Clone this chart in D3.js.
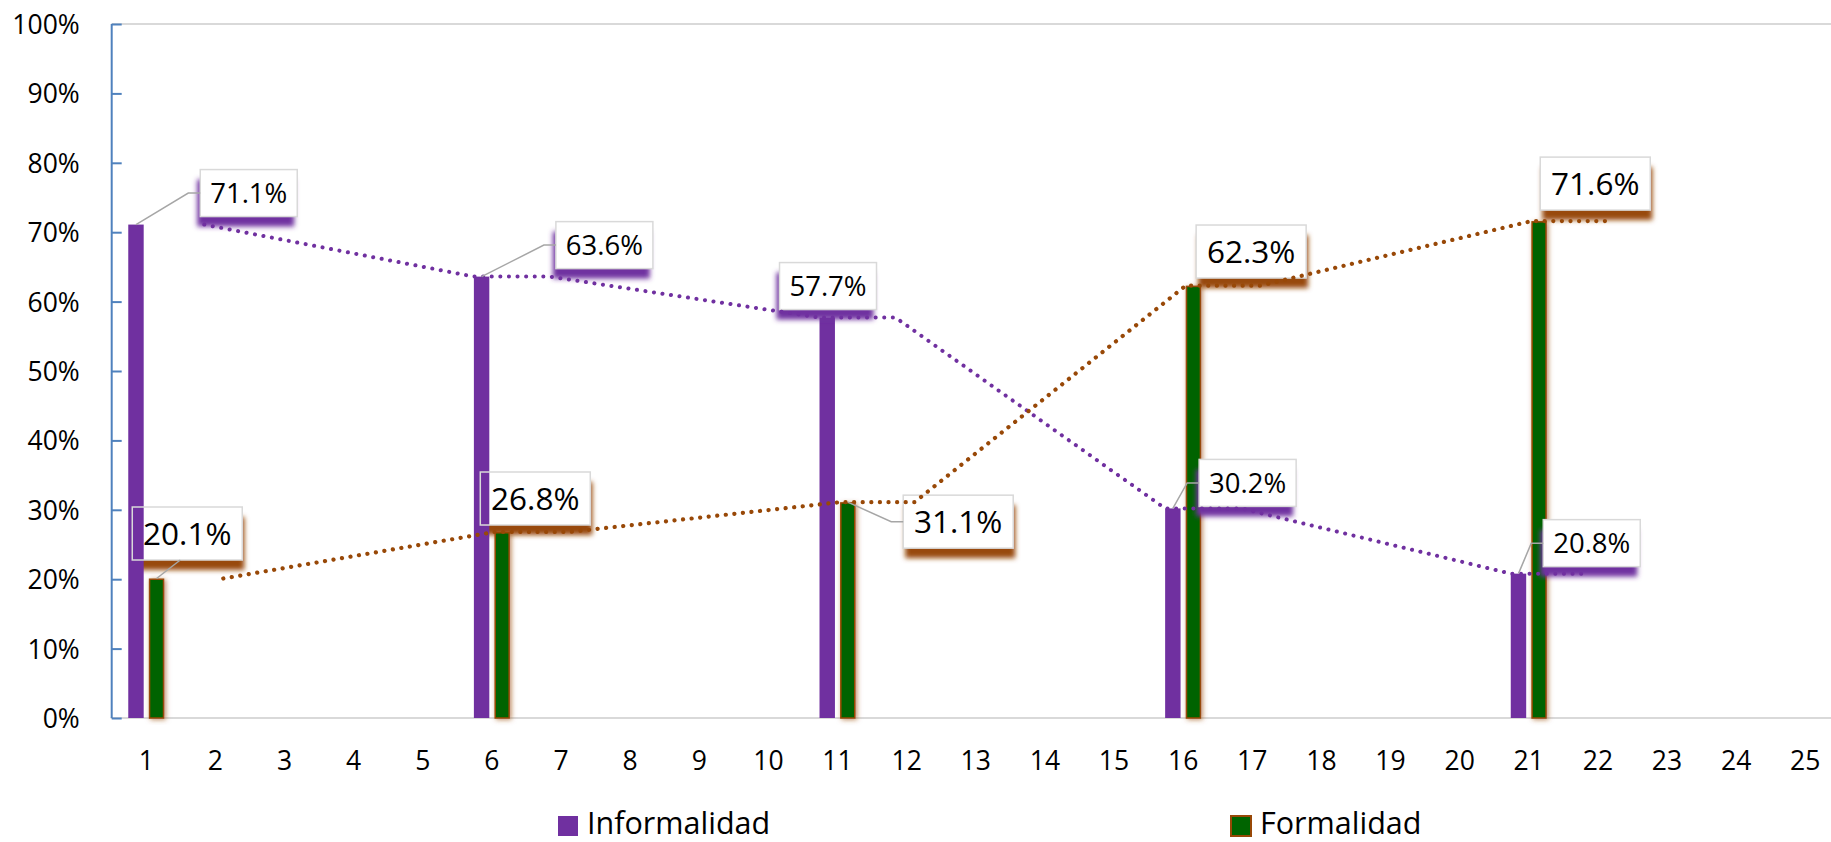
<!DOCTYPE html>
<html>
<head>
<meta charset="utf-8">
<script src="https://cdn.jsdelivr.net/npm/d3@7"></script>
<style>
  html, body { margin: 0; padding: 0; background: #ffffff; }
  svg { display: block; font-family: "Open Sans", "DejaVu Sans", sans-serif; }
</style>
</head>
<body>
<svg id="chart" width="1831" height="842"></svg>
<script>
// ---- data ----
const categories = ["1", "2", "3", "4", "5", "6", "7", "8", "9", "10", "11", "12", "13",
                    "14", "15", "16", "17", "18", "19", "20", "21", "22", "23", "24", "25"];
const groupCategories = ["1", "6", "11", "16", "21"];
const informalidad = [71.1, 63.6, 57.7, 30.2, 20.8];
const formalidad = [20.1, 26.8, 31.1, 62.3, 71.6];
const yTickValues = [0, 10, 20, 30, 40, 50, 60, 70, 80, 90, 100];
const seriesNames = ["Informalidad", "Formalidad"];

// ---- label placement (box top-left relative to the bar group centre / value) ----
const infLabelOffsets = [[54, -55], [64, -55], [-58, -55], [16, -49], [14.5, -54]];
const formLabelOffsets = [[-14, -71.5], [-11.6, -60], [65.7, -7], [13, -60.6], [11.5, -64]];
const infLeaders = ["side", "side", null, "side", "side"];
const formLeaders = ["bottom", null, "side", null, null];

// ---- styles ----
const COLORS = {
  inf: "#7030A0",
  form: "#006400",
  formEdge: "#984807",
  axis: "#4F81BD",
  grid: "#D9D9D9",
  leader: "#A6A6A6",
  boxEdge: "#D9D9D9"
};

const svg = d3.select("#chart");
const W = 1831, H = 842;
const plot = { left: 111.7, top: 24, bottom: 718, step: 69.125 };
plot.right = plot.left + categories.length * plot.step;

const x = d3.scaleBand().domain(categories).range([plot.left, plot.right]);
const y = d3.scaleLinear().domain([0, 100]).range([plot.bottom, plot.top]);
const inner = d3.scaleBand().domain(seriesNames).range([-18, 18]).paddingInner(0.25);
const cx = c => x(c) + x.bandwidth() / 2;

// ---- filters ----
const defs = svg.append("defs");
const blur = defs.append("filter").attr("id", "soft").attr("x", "-20%").attr("y", "-40%")
  .attr("width", "140%").attr("height", "180%");
blur.append("feGaussianBlur").attr("stdDeviation", 2.6);

const glow = defs.append("filter").attr("id", "glow").attr("x", "-100%").attr("y", "-5%")
  .attr("width", "300%").attr("height", "110%");
glow.append("feDropShadow").attr("dx", 1.5).attr("dy", 1).attr("stdDeviation", 2.4)
  .attr("flood-color", COLORS.formEdge).attr("flood-opacity", 0.65);

// ---- plot frame ----
svg.append("line")
  .attr("x1", plot.left).attr("x2", W)
  .attr("y1", y(100)).attr("y2", y(100))
  .attr("stroke", COLORS.grid).attr("stroke-width", 2);
svg.append("line")
  .attr("x1", plot.left - 1).attr("x2", W)
  .attr("y1", y(0)).attr("y2", y(0))
  .attr("stroke", COLORS.grid).attr("stroke-width", 2);

// y axis with inner ticks
const yAxis = d3.axisRight(y)
  .tickValues(yTickValues)
  .tickSize(10)
  .tickFormat(d => d + "%");
const gy = svg.append("g").attr("transform", `translate(${plot.left},0)`).call(yAxis);
gy.select(".domain").attr("stroke", COLORS.axis).attr("stroke-width", 2)
  .attr("d", `M0,${y(100)}V${y(0)}`);
gy.selectAll(".tick line").attr("stroke", COLORS.axis).attr("stroke-width", 2);
gy.selectAll(".tick text")
  .attr("x", -32).attr("dy", "0.36em")
  .attr("text-anchor", "end")
  .attr("fill", "#000").attr("font-size", 26.5)
  .attr("font-family", '"Open Sans", sans-serif');

// x axis labels
const xAxis = d3.axisBottom(x).tickSize(0).tickPadding(0);
const gx = svg.append("g").attr("transform", `translate(0,${plot.bottom})`).call(xAxis);
gx.select(".domain").remove();
gx.selectAll(".tick text")
  .attr("y", 52).attr("dy", 0)
  .attr("fill", "#000").attr("font-size", 26.5)
  .attr("font-family", '"Open Sans", sans-serif');

// ---- label geometry ----
const INF_BOX = { w: 97, h: 47, font: 27.5 };
const FORM_BOX = { w: 110, h: 53, font: 31.5 };

function boxes(values, offsets, size) {
  return values.map((v, i) => {
    const c = groupCategories[i];
    return {
      v, i,
      x: cx(c) + offsets[i][0],
      y: y(v) + offsets[i][1],
      w: size.w, h: size.h, font: size.font
    };
  });
}
const infBoxes = boxes(informalidad, infLabelOffsets, INF_BOX);
const formBoxes = boxes(formalidad, formLabelOffsets, FORM_BOX);

function drawBoxFills(g, data, shadowColor, sdx) {
  g.selectAll("rect.shadow").data(data).join("rect")
    .attr("class", "shadow")
    .attr("x", d => d.x + sdx).attr("y", d => d.y + 10)
    .attr("width", d => d.w).attr("height", d => d.h)
    .attr("fill", shadowColor)
    .attr("filter", "url(#soft)");
  g.selectAll("rect.box").data(data).join("rect")
    .attr("class", "box")
    .attr("x", d => d.x).attr("y", d => d.y)
    .attr("width", d => d.w).attr("height", d => d.h)
    .attr("fill", "#ffffff");
}
function drawBoxOutlines(g, data) {
  g.selectAll("rect.edge").data(data).join("rect")
    .attr("class", "edge")
    .attr("x", d => d.x).attr("y", d => d.y)
    .attr("width", d => d.w).attr("height", d => d.h)
    .attr("fill", "none")
    .attr("stroke", COLORS.boxEdge).attr("stroke-width", 1.5);
}

// Formalidad box fills sit beneath the bars
drawBoxFills(svg.append("g"), formBoxes, COLORS.formEdge, 2);

// ---- bars ----
const barsG = svg.append("g");
barsG.selectAll("rect.inf").data(informalidad).join("rect")
  .attr("class", "inf")
  .attr("x", (d, i) => cx(groupCategories[i]) + inner("Informalidad"))
  .attr("y", d => y(d))
  .attr("width", inner.bandwidth())
  .attr("height", d => y(0) - y(d))
  .attr("fill", COLORS.inf);
barsG.selectAll("rect.form").data(formalidad).join("rect")
  .attr("class", "form")
  .attr("x", (d, i) => cx(groupCategories[i]) + inner("Formalidad") + 0.75)
  .attr("y", d => y(d) + 0.75)
  .attr("width", inner.bandwidth() - 1.5)
  .attr("height", d => y(0) - y(d) - 0.75)
  .attr("fill", COLORS.form)
  .attr("stroke", COLORS.formEdge).attr("stroke-width", 1.5)
  .attr("filter", "url(#glow)");

drawBoxOutlines(svg.append("g"), formBoxes);

// Informalidad boxes
const infG = svg.append("g");
drawBoxFills(infG, infBoxes, COLORS.inf, -3);
drawBoxOutlines(infG, infBoxes);

// ---- dotted trend lines ----
function trendPoints(values, series, rightReach) {
  const pts = [];
  values.forEach((v, i) => {
    const c = groupCategories[i];
    if (i > 0) pts.push([cx(c) + inner(series), y(v)]);
    pts.push([cx(c) + rightReach, y(v)]);
  });
  return pts;
}
const line = d3.line().curve(d3.curveLinear);
svg.append("path")
  .attr("d", line(trendPoints(informalidad, "Informalidad", 58)))
  .attr("fill", "none").attr("stroke", COLORS.inf)
  .attr("stroke-width", 4).attr("stroke-linecap", "round")
  .attr("stroke-dasharray", "0.1 8.5");
svg.append("path")
  .attr("d", line(trendPoints(formalidad, "Formalidad", 77)))
  .attr("fill", "none").attr("stroke", COLORS.formEdge)
  .attr("stroke-width", 4.2).attr("stroke-linecap", "round")
  .attr("stroke-dasharray", "0.1 8.5");

// ---- leader lines ----
function leaderPath(b, series, kind) {
  const ax = cx(groupCategories[b.i]) + inner(series) + inner.bandwidth() / 2;
  const ay = y(b.v);
  if (kind === "side") {
    const my = b.y + b.h / 2;
    return `M${ax},${ay}L${b.x - 12},${my}L${b.x},${my}`;
  }
  return `M${ax},${ay}L${b.x + 48},${b.y + b.h}`;
}
const leadG = svg.append("g").attr("fill", "none")
  .attr("stroke", COLORS.leader).attr("stroke-width", 1.5);
infBoxes.forEach(b => {
  if (infLeaders[b.i]) leadG.append("path").attr("d", leaderPath(b, "Informalidad", infLeaders[b.i]));
});
formBoxes.forEach(b => {
  if (formLeaders[b.i]) leadG.append("path").attr("d", leaderPath(b, "Formalidad", formLeaders[b.i]));
});

// ---- label texts ----
const fmt = d => d.toFixed(1) + "%";
svg.append("g").selectAll("text").data(formBoxes.concat(infBoxes)).join("text")
  .attr("x", d => d.x + d.w / 2)
  .attr("y", d => d.y + d.h / 2 + d.font * 0.37)
  .attr("text-anchor", "middle")
  .attr("font-size", d => d.font)
  .attr("fill", "#000")
  .text(d => fmt(d.v));

// ---- legend ----
const legend = svg.append("g");
const legendItems = [
  { name: seriesNames[0], x: 558, fill: COLORS.inf, stroke: "none" },
  { name: seriesNames[1], x: 1231, fill: COLORS.form, stroke: COLORS.formEdge }
];
legendItems.forEach(it => {
  legend.append("rect")
    .attr("x", it.x).attr("y", 816)
    .attr("width", 20).attr("height", 20)
    .attr("fill", it.fill)
    .attr("stroke", it.stroke).attr("stroke-width", 2);
  legend.append("text")
    .attr("x", it.x + 29).attr("y", 834)
    .attr("font-size", 30.5)
    .attr("fill", "#000")
    .text(it.name);
});
</script>
</body>
</html>
